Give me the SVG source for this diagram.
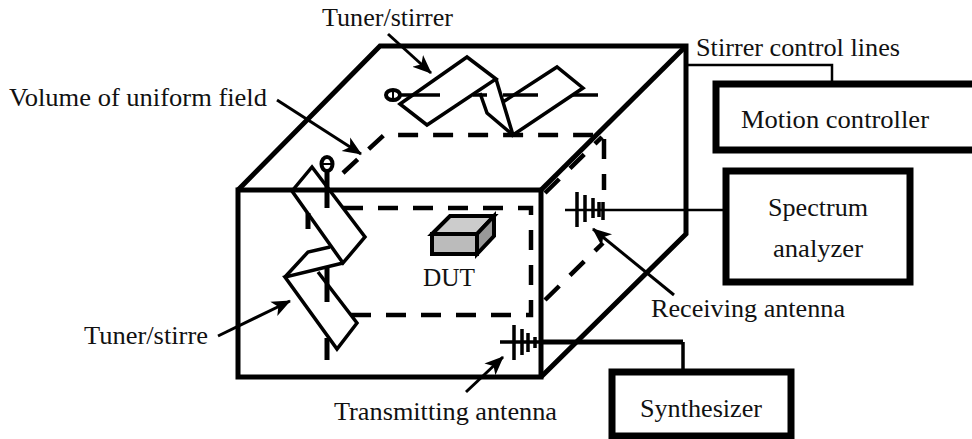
<svg xmlns="http://www.w3.org/2000/svg" width="972" height="439" viewBox="0 0 972 439">
<defs><marker id="a" markerWidth="20" markerHeight="18" refX="18" refY="9" orient="auto" markerUnits="userSpaceOnUse"><path d="M0,1 L19,9 L0,17 L5,9 Z" fill="#000"/></marker></defs>
<style>
text{font-family:"Liberation Serif",serif;font-size:25px;fill:#111}
.e{fill:none;stroke:#000;stroke-width:5}
.n{fill:none;stroke:#000;stroke-width:3.500}
.d{fill:none;stroke:#000;stroke-width:4.500;stroke-dasharray:20 15}
.b{fill:#fff;stroke:#000;stroke-width:7}
.l{fill:none;stroke:#000;stroke-width:2.500}
.ar{fill:none;stroke:#000;stroke-width:3;marker-end:url(#a)}
</style>
<rect width="972" height="439" fill="#fff"/>
<g id="chamber">
<path class="e" d="M238,190 L380,46 H686 V234 L541,377"/>
<path class="e" d="M541,190 L686,46"/>
<rect class="e" x="238" y="190" width="303" height="187"/>
</g>
<g id="uniform-volume">
<path class="d" d="M343,208 H531 V315 H343"/>
<path class="d" d="M343,173 L384,135 H604 V190"/>
<path class="d" d="M545,193 L602,137"/>
<path class="d" d="M545,300 L603,243"/>
</g>
<g id="tuner-top">
<ellipse cx="393" cy="95" rx="7" ry="5" fill="#fff" stroke="#000" stroke-width="4"/>
<path d="M393,90 V100" stroke="#000" stroke-width="2"/>
<path class="n" d="M400,95 H440 M473,95 H487 M503,95 H538 M573,95 H598"/>
<path class="n" d="M400,104 L467,57 L496,79 L427,125 Z"/>
<path class="n" d="M496,79 L513,135 L583,88 L557,67 L503,102"/>
<path class="n" d="M480,93 L487,113 L513,135"/>
</g>
<g id="tuner-left">
<ellipse cx="327" cy="164" rx="5.500" ry="7" fill="#fff" stroke="#000" stroke-width="4"/>
<path d="M322,164 H332" stroke="#000" stroke-width="2"/>
<path class="e" d="M327,170 V208 M327,268 V302 M327,338 V360 M308,213 V229"/>
<path class="n" d="M292,191 L312,167 L365,237 L343,263 Z"/>
<path class="n" d="M343,263 L285,277 L337,349 L357,323 L318,272"/>
<path class="n" d="M285,277 L308,252 L330,247"/>
</g>
<g id="dut">
<path d="M432,234 L450,216 H494 L477,234 Z" fill="#ccc" stroke="#000" stroke-width="4"/>
<path d="M477,234 L494,216 V236 L477,254 Z" fill="#999" stroke="#000" stroke-width="4"/>
<rect x="432" y="234" width="45" height="20" fill="#bbb" stroke="#000" stroke-width="4"/>
<text x="423" y="286" textLength="52" lengthAdjust="spacingAndGlyphs">DUT</text>
</g>
<g id="receiving-antenna">
<path class="n" d="M577,192 V227 M585,195 V222 M593,198 V218 M599,202 V217 M603,202 V220"/>
<text x="651" y="317" textLength="194" lengthAdjust="spacingAndGlyphs">Receiving antenna</text>
</g>
<g id="transmitting-antenna">
<path class="n" d="M514,325 V360 M522,329 V355 M528,333 V352 M535,337 V348"/>
<text x="334" y="420" textLength="223" lengthAdjust="spacingAndGlyphs">Transmitting antenna</text>
</g>
<g id="motion-controller"><rect class="b" x="716" y="84" width="262" height="66"/><text x="741" y="128" textLength="188" lengthAdjust="spacingAndGlyphs">Motion controller</text></g>
<g id="spectrum-analyzer"><rect class="b" x="726" y="171" width="184" height="111"/><text x="768" y="216" textLength="100" lengthAdjust="spacingAndGlyphs">Spectrum</text><text x="773" y="257" textLength="90" lengthAdjust="spacingAndGlyphs">analyzer</text></g>
<g id="synthesizer"><rect class="b" x="612" y="372" width="179" height="64"/><text x="640" y="417" textLength="122" lengthAdjust="spacingAndGlyphs">Synthesizer</text></g>
<g id="connectors">
<path class="l" d="M686,65 H832 V84"/>
<path class="l" d="M565,210 H726"/>
<path class="e" d="M541,342 H683"/>
<path class="n" d="M500,342 H541 M683,342 V372"/>
<path class="ar" d="M388,34 L431,73"/>
<path class="ar" d="M277,100 L361,154"/>
<path class="ar" d="M218,336 L290,301"/>
<path class="ar" d="M674,295 L593,229"/>
<path class="ar" d="M466,392 L503,357"/>
</g>
<g id="labels">
<text x="322" y="26" textLength="131" lengthAdjust="spacingAndGlyphs">Tuner/stirrer</text>
<text x="9" y="106" textLength="258" lengthAdjust="spacingAndGlyphs">Volume of uniform field</text>
<text x="84" y="344" textLength="124" lengthAdjust="spacingAndGlyphs">Tuner/stirre</text>
<text x="696" y="56" textLength="204" lengthAdjust="spacingAndGlyphs">Stirrer control lines</text>
</g>
</svg>
